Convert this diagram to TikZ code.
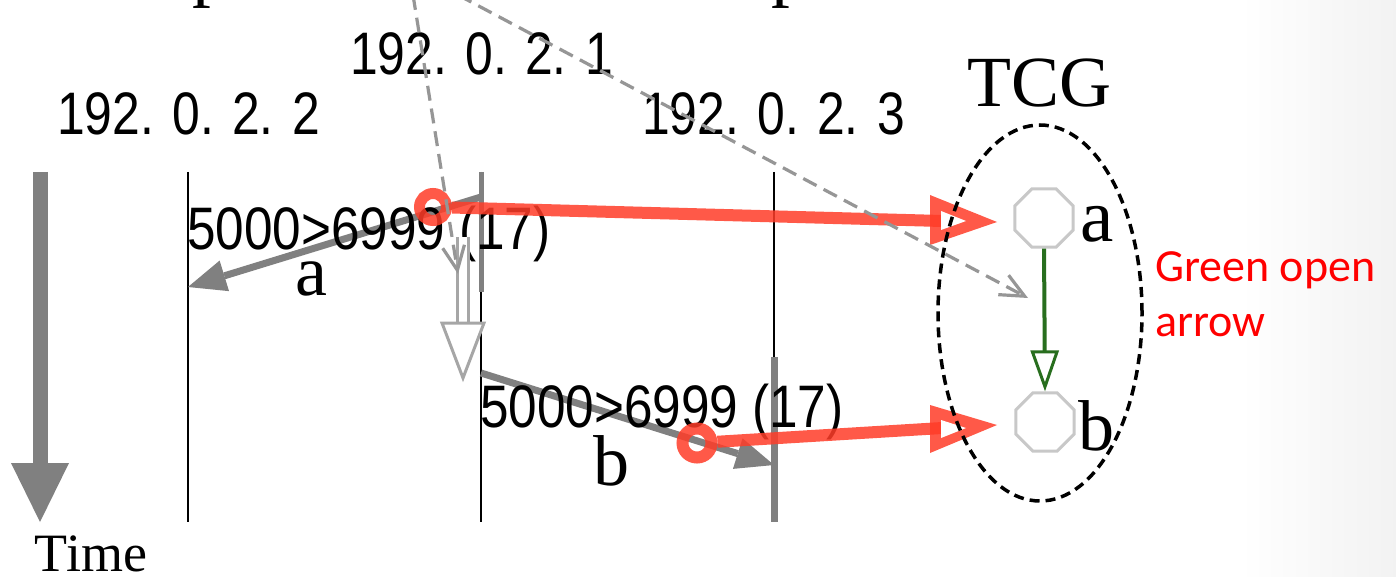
\documentclass[tikz,border=0pt]{standalone}
\usepackage{fontspec}
\usepackage{graphicx}
\setmainfont{Liberation Serif}
\newfontfamily\hostfont{Liberation Sans}
\newfontfamily\calfont{Carlito}
\usetikzlibrary{arrows.meta,shapes.geometric}
\definecolor{msggray}{RGB}{128,128,128}
\definecolor{lightg}{RGB}{166,166,166}
\definecolor{dashg}{RGB}{150,150,150}
\definecolor{octg}{RGB}{200,200,200}
\definecolor{hlred}{RGB}{255,60,40}
\definecolor{dgreen}{RGB}{40,110,30}
\newcommand\hosttxt[2]{\scalebox{#1}[1]{\hostfont\fontsize{60}{60}\selectfont #2}}
\tikzset{
  lifeline/.style={draw=black, line width=2.5pt},
  lifehl/.style={draw=msggray},
  txt/.style={inner sep=0pt, outer sep=0pt, anchor=base west},
  serifl/.style={inner sep=0pt, outer sep=0pt, anchor=base, font=\fontsize{72}{72}\selectfont},
  msgarrow/.style={draw=msggray, line width=7pt, -{Triangle[length=38pt,width=32pt,line width=0pt]}},
  redline/.style={draw=hlred, opacity=0.85, line width=12pt},
  redring/.style={circle, draw=hlred, opacity=0.85, inner sep=0pt, fill=none},
  redhead/.style={fill=hlred, opacity=0.85},
  dasharrow/.style={draw=dashg, line width=3.2pt, dash pattern=on 15pt off 8pt, -{Straight Barb[length=24pt,width=22pt]}},
  octnode/.style={regular polygon, regular polygon sides=8, draw=octg, line width=3pt, minimum size=63pt, inner sep=0pt, fill=white},
  greenarrow/.style={draw=dgreen, line width=4pt, -{Triangle[open,length=41pt,width=28pt,line width=3pt,fill=white]}},
}
\begin{document}
\begin{tikzpicture}[x=1pt,y=-1pt]
\useasboundingbox (0,0) rectangle (1396,577);
\fill[white] (0,0) rectangle (1396,577);
\shade[left color=white, right color=black!5] (1240,0) rectangle (1396,577);

% cut-off letters at the top
\node[txt, font=\fontsize{75}{75}\selectfont] (ptop1) at (192,-7) {p};
\node[txt, font=\fontsize{75}{75}\selectfont] (ptop2) at (771,-7) {p};

% lifelines
\coordinate (l1t) at (188,172); \coordinate (l1b) at (188,522);
\coordinate (l2t) at (481,172); \coordinate (l2m) at (481,292); \coordinate (l2b) at (481,522);
\coordinate (l3t) at (774,172); \coordinate (l3m) at (774,357); \coordinate (l3b) at (774,522);
\draw[lifeline] (l1t) -- (l1b);
\draw[lifeline] (l2t) -- (l2b);
\draw[lifeline] (l3t) -- (l3b);
\draw[lifehl, line width=5pt] (l2t) -- (l2m);
\draw[lifehl, line width=7pt] (l3m) -- (l3b);

% time arrow
\coordinate (tt) at (40,172); \coordinate (tb) at (40,522);
\draw[draw=msggray, line width=15pt, -{Triangle[length=59pt,width=58pt,line width=0pt]}] (tt) -- (tb);
\node[inner sep=0pt, anchor=base, font=\fontsize{54}{54}\selectfont] (time) at (91,571) {Time};

% host labels
\node[txt] (h2) at (57,135) {\hosttxt{0.83}{192. 0. 2. 2}};
\node[txt] (h1) at (350,75) {\hosttxt{0.83}{192. 0. 2. 1}};
\node[txt] (h3) at (642,135) {\hosttxt{0.83}{192. 0. 2. 3}};

% messages
\coordinate (a1) at (481,197); \coordinate (a2) at (188,287);
\coordinate (b1) at (481,373); \coordinate (b2) at (774,465);
\draw[msgarrow] (a1) -- (a2);
\draw[msgarrow] (b1) -- (b2);
\node[txt] (lab1) at (187,250) {\hosttxt{0.855}{5000>6999 (17)}};
\node[txt] (lab2) at (480,427) {\hosttxt{0.855}{5000>6999 (17)}};
\node[serifl] (la) at (311,295) {a};
\node[serifl] (lb) at (611,485) {b};

% implication arrow
\coordinate (imp1) at (463,237); \coordinate (imp2) at (463,323);
\draw[draw=lightg, line width=3pt, double=white, double distance=8pt] (imp1) -- (imp2);
\draw[draw=lightg, line width=3pt, fill=white, line join=miter] (442,323) -- (484,323) -- (463,378) -- cycle;

% red highlights
\node[redring, line width=11pt, minimum size=27pt] (r1) at (433,207) {};
\node[redring, line width=12pt, minimum size=29pt] (r2) at (697,443) {};
\coordinate (e1) at (942,221); \coordinate (e2) at (942,428);
\draw[redline] (r1) -- (e1);
\draw[redline] (r2) -- (e2);
\fill[redhead] (930,195) -- (997,222) -- (930,245) -- cycle;
\fill[white] (941,211) -- (966,221) -- (941,230) -- cycle;
\fill[redhead] (930,405) -- (997,425) -- (930,453) -- cycle;
\fill[white] (941,420) -- (966,428) -- (941,438) -- cycle;

% dashed grey arrows from above
\coordinate (d1s) at (413,-5); \coordinate (d1e) at (458,274);
\coordinate (d2s) at (458,-5); \coordinate (d2e) at (1028,298);
\draw[dasharrow] (d1s) -- (d1e);
\draw[dasharrow] (d2s) -- (d2e);

% TCG
\node[inner sep=0pt, anchor=base, font=\fontsize{72}{72}\selectfont] (tcglab) at (1039,107) {TCG};
\node[ellipse, draw=black, line width=3.5pt, dash pattern=on 10pt off 6pt, minimum width=204pt, minimum height=376pt, inner sep=0pt] (tcg) at (1040,313) {};
\node[octnode] (na) at (1044,218) {};
\node[octnode] (nb) at (1045,422) {};
\draw[greenarrow] (na.south) -- (nb.north);
\node[serifl, font=\fontsize{75}{75}\selectfont] (tla) at (1097,242) {a};
\node[serifl, font=\fontsize{72}{72}\selectfont] (tlb) at (1096,450) {b};

% note
\node[txt, text=red, font=\calfont\fontsize{46}{46}\selectfont] (note1) at (1155,281) {Green open};
\node[txt, text=red, font=\calfont\fontsize{46}{46}\selectfont] (note2) at (1155,336) {arrow};
\end{tikzpicture}
\end{document}
